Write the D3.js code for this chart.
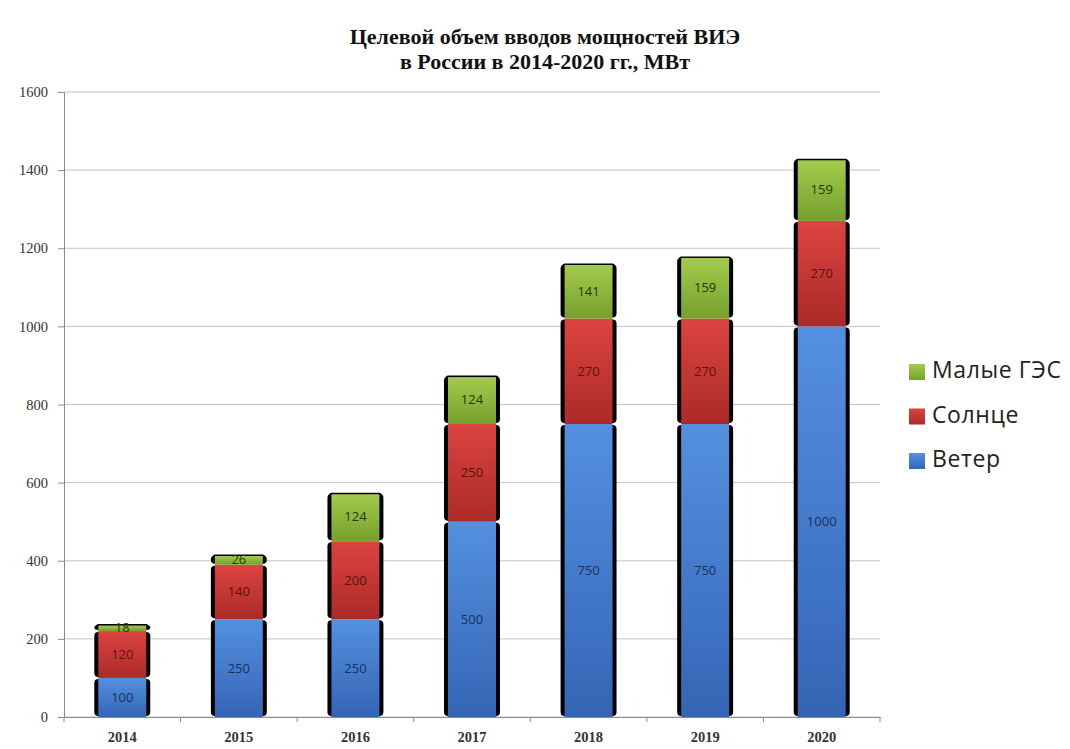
<!DOCTYPE html>
<html lang="ru">
<head>
<meta charset="UTF-8">
<script src="https://cdnjs.cloudflare.com/ajax/libs/d3/7.8.5/d3.min.js"></script>
<style>
  body { margin: 0; background: #fff; }
  svg { display: block; }
</style>
</head>
<body>
<div id="chart"></div>
<script>
    var years = ["2014", "2015", "2016", "2017", "2018", "2019", "2020"];
    var wind = [100, 250, 250, 500, 750, 750, 1000];
    var solar = [120, 140, 200, 250, 270, 270, 270];
    var smallHydro = [18, 26, 124, 124, 141, 159, 159];
    var yTicks = [0, 200, 400, 600, 800, 1000, 1200, 1400, 1600];
    var seriesNames = ["Ветер", "Солнце", "Малые ГЭС"];

    var width = 1070, height = 749;
    var plotLeft = 64, plotRight = 880, plotTop = 92, plotBottom = 717;

    var svg = d3.select("#chart").append("svg")
        .attr("width", width)
        .attr("height", height);

    // gradients per series
    var colors = [
        {id: "gWind", top: "#5590e0", bottom: "#3465b5", text: "#17305e"},
        {id: "gSolar", top: "#dc4440", bottom: "#ab2a28", text: "#5c1010"},
        {id: "gHydro", top: "#a3cb4c", bottom: "#76a02e", text: "#233a0c"}
    ];
    var defs = svg.append("defs");
    colors.forEach(function (c) {
        var g = defs.append("linearGradient")
            .attr("id", c.id)
            .attr("x1", 0).attr("y1", 0).attr("x2", 0).attr("y2", 1);
        g.append("stop").attr("offset", "0%").attr("stop-color", c.top);
        g.append("stop").attr("offset", "100%").attr("stop-color", c.bottom);
    });

    var x = d3.scaleBand()
        .domain(years)
        .range([plotLeft, plotRight])
        .paddingInner(0.52)
        .paddingOuter(0.26);

    var y = d3.scaleLinear()
        .domain([0, 1600])
        .range([plotBottom, plotTop]);

    // grid
    svg.append("g")
        .selectAll("line")
        .data(yTicks)
        .join("line")
        .attr("x1", plotLeft).attr("x2", plotRight)
        .attr("y1", function (d) { return y(d); })
        .attr("y2", function (d) { return y(d); })
        .attr("stroke", "#c4c4c4")
        .attr("stroke-width", 1);

    // y axis
    var yAxis = svg.append("g")
        .attr("transform", "translate(" + plotLeft + ",0)")
        .call(d3.axisLeft(y).tickValues(yTicks).tickSize(6).tickPadding(10).tickFormat(d3.format("d")));
    yAxis.select(".domain").attr("stroke", "#8c8c8c");
    yAxis.selectAll(".tick line").attr("stroke", "#8c8c8c");
    yAxis.selectAll("text")
        .attr("font-family", "'Liberation Serif', serif")
        .attr("font-size", 14.5)
        .attr("fill", "#333");

    // x axis
    var xAxis = svg.append("g")
        .attr("transform", "translate(0," + plotBottom + ")")
        .call(d3.axisBottom(x).tickSize(0).tickPadding(15));
    xAxis.select(".domain").attr("stroke", "#8c8c8c");
    xAxis.selectAll("text")
        .attr("font-family", "'Liberation Serif', serif")
        .attr("font-size", 14.5)
        .attr("font-weight", "bold")
        .attr("fill", "#333");
    // category separators
    var step = x.step();
    svg.append("g")
        .selectAll("line")
        .data(d3.range(years.length + 1))
        .join("line")
        .attr("x1", function (i) { return plotLeft + i * step; })
        .attr("x2", function (i) { return plotLeft + i * step; })
        .attr("y1", plotBottom).attr("y2", plotBottom + 5)
        .attr("stroke", "#8c8c8c");

    // stacked data
    var rows = years.map(function (yr, i) {
        return {year: yr, "Ветер": wind[i], "Солнце": solar[i], "Малые ГЭС": smallHydro[i]};
    });
    var stack = d3.stack().keys(seriesNames)(rows);

    var bw = x.bandwidth();
    var layers = svg.append("g")
        .selectAll("g")
        .data(stack)
        .join("g");

    layers.each(function (layer, li) {
        var g = d3.select(this);
        var c = colors[li];
        var isTop = li === stack.length - 1;
        var segs = g.selectAll("g.seg")
            .data(layer)
            .join("g")
            .attr("class", "seg");

        // black side edges, rounded at the ends of each segment
        segs.append("rect")
            .attr("x", function (d) { return x(d.data.year); })
            .attr("y", function (d) { return y(d[1]) + 1; })
            .attr("width", bw)
            .attr("height", function (d) { return Math.max(0, y(d[0]) - y(d[1]) - 2); })
            .attr("rx", 4).attr("ry", 4)
            .attr("fill", "#000");

        if (isTop) {
            segs.append("rect")
                .attr("x", function (d) { return x(d.data.year) + 2; })
                .attr("y", function (d) { return y(d[1]); })
                .attr("width", bw - 4)
                .attr("height", 3)
                .attr("rx", 2)
                .attr("fill", "#000");
        }

        // gradient fill
        segs.append("rect")
            .attr("x", function (d) { return x(d.data.year) + 4; })
            .attr("y", function (d) { return y(d[1]) + (isTop ? 1.5 : 0); })
            .attr("width", bw - 8)
            .attr("height", function (d) { return Math.max(0, y(d[0]) - y(d[1]) - (isTop ? 1.5 : 0)); })
            .attr("fill", "url(#" + c.id + ")");

        segs.append("text")
            .attr("x", function (d) { return x(d.data.year) + bw / 2; })
            .attr("y", function (d) { return (y(d[0]) + y(d[1])) / 2 + 1; })
            .attr("text-anchor", "middle")
            .attr("dominant-baseline", "middle")
            .attr("font-family", "'Open Sans', sans-serif")
            .attr("font-size", 13)
            .attr("fill", c.text)
            .text(function (d) { return d[1] - d[0]; });
    });

    // legend
    var legendItems = [
        {name: "Малые ГЭС", color: colors[2]},
        {name: "Солнце", color: colors[1]},
        {name: "Ветер", color: colors[0]}
    ];
    var legend = svg.append("g")
        .selectAll("g")
        .data(legendItems)
        .join("g")
        .attr("transform", function (d, i) { return "translate(909," + (372 + i * 44.5) + ")"; });
    legend.append("rect")
        .attr("x", 0).attr("y", -8)
        .attr("width", 16).attr("height", 16)
        .attr("fill", function (d) { return "url(#" + d.color.id + ")"; });
    legend.append("text")
        .attr("x", 23).attr("y", 0)
        .attr("dominant-baseline", "middle")
        .attr("font-family", "'Open Sans', sans-serif")
        .attr("font-size", 23)
        .attr("letter-spacing", 0.6)
        .attr("fill", "#222")
        .text(function (d) { return d.name; });

    // title
    var title = svg.append("text")
        .attr("x", 545)
        .attr("text-anchor", "middle")
        .attr("font-family", "'Liberation Serif', serif")
        .attr("font-size", 22)
        .attr("font-weight", "bold")
        .attr("fill", "#111");
    title.append("tspan").attr("x", 545).attr("y", 44).text("Целевой объем вводов мощностей ВИЭ");
    title.append("tspan").attr("x", 545).attr("y", 69).text("в России в 2014-2020 гг., МВт");
</script>
</body>
</html>
